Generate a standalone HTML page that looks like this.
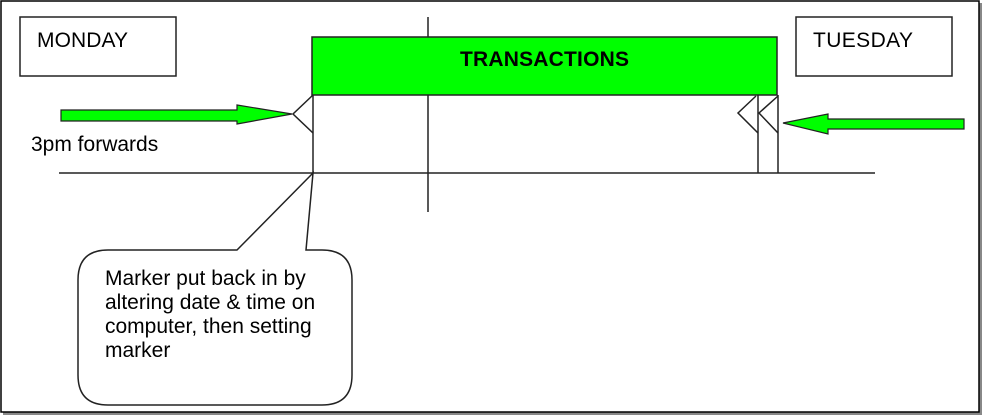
<!DOCTYPE html>
<html><head><meta charset="utf-8"><style>
html,body{margin:0;padding:0;background:#fff;}
svg{display:block;}
text{font-family:"Liberation Sans",Arial,sans-serif;}
</style></head><body>
<svg width="984" height="416" viewBox="0 0 984 416" xmlns="http://www.w3.org/2000/svg">
<rect x="3" y="3" width="979" height="412" fill="#888"/>
<rect x="1" y="1" width="978" height="411" fill="#fff" stroke="#000" stroke-width="1.5"/>
<g stroke="#222" stroke-width="1.5" fill="none">
<rect x="20" y="17" width="156" height="59"/>
<rect x="796" y="17" width="156" height="59"/>
<line x1="428" y1="17" x2="428" y2="212"/>
<line x1="59" y1="173" x2="875" y2="173"/>
<line x1="313" y1="95" x2="313" y2="173"/>
<line x1="758" y1="95" x2="758" y2="173"/>
<line x1="778" y1="95" x2="778" y2="173"/>
<polyline points="313,95 293,114 313,133"/>
<polyline points="756,96 738,113 758,133"/>
<polyline points="778,96 759,113 778,133"/>
</g>
<rect x="312" y="37" width="465" height="58" fill="#00ff00" stroke="#222" stroke-width="1.5"/>
<text x="460" y="66" font-size="21" font-weight="bold" textLength="169">TRANSACTIONS</text>
<text x="37" y="47" font-size="21" textLength="91">MONDAY</text>
<text x="813" y="47" font-size="21" textLength="100">TUESDAY</text>
<text x="31" y="151" font-size="21">3pm forwards</text>
<polygon points="61,110 237,110 237,105 292,114 237,124 237,121 61,121" fill="#00ff00" stroke="#222" stroke-width="1.2"/>
<polygon points="964,119 828,119 828,114 783,123 828,134 828,129 964,129" fill="#00ff00" stroke="#222" stroke-width="1.2"/>
<path d="M237,250 L313,173 L306,250 L322,250 Q352,250 352,280 L352,375 Q352,405 322,405 L108,405 Q78,405 78,375 L78,280 Q78,250 108,250 Z" fill="#fff" stroke="#222" stroke-width="1.5"/>
<g font-size="21" fill="#000">
<text x="105" y="285">Marker put back in by</text>
<text x="105" y="309">altering date &amp; time on</text>
<text x="105" y="333">computer, then setting</text>
<text x="105" y="357">marker</text>
</g>
</svg>
</body></html>
